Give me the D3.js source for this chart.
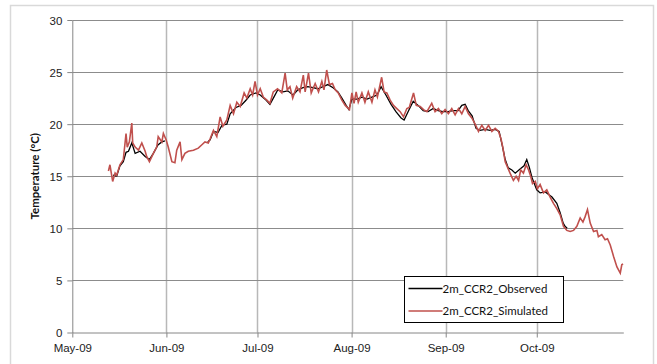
<!DOCTYPE html>
<html lang="en">
<head>
<meta charset="UTF-8">
<title>2m CCR2 temperature</title>
<script src="https://d3js.org/d3.v7.min.js"></script>
<style>
  body { margin: 0; background: #fff; }
  svg { display: block; font-family: Lato, "Open Sans", sans-serif; }
  .tick text { font-size: 11.5px; fill: #222; }
  .axis path, .axis line { stroke: #868686; }
  .grid-h line { stroke: #8c8c8c; }
  .grid-v line { stroke: #b8b8b8; stroke-width: 1.5px; }
  .legend text { font-size: 11.5px; fill: #111; }
</style>
</head>
<body>
<div id="chart"></div>
<script>
// days after 1 May 2009 and temperature (°C)
const simDays = [11.9, 12.4, 13.3, 14.1, 14.6, 15.7, 16.8, 17.7, 18.1, 18.8, 19.6, 19.9, 20.7, 21.8, 22.9, 24.0, 24.5, 25.4, 26.7, 27.8,
  28.3, 29.5, 30.0, 30.9, 31.6, 32.8, 33.8, 34.4, 35.5, 36.1, 37.1, 38.2, 39.9, 41.5, 42.6, 43.7, 44.8,
  45.4, 46.5, 47.6, 48.7, 49.6, 50.9, 52.0, 53.1, 54.2, 55.3, 56.6, 57.5, 58.6, 59.4, 60.2, 61.0, 61.9, 62.9, 64.1, 65.1,
  66.2, 67.6, 69.0, 70.1, 70.8, 71.7, 72.6, 73.9, 75.0,
  76.1, 76.7, 77.8, 78.7, 80.0, 81.1, 82.2, 82.9, 83.8, 84.7, 85.7, 86.6, 87.6, 88.8, 89.9, 91.3, 92.1, 92.8, 93.5, 94.2,
  95.4, 96.4, 97.5, 98.7, 99.7, 100.5, 101.9, 102.7, 103.6, 104.7, 105.8, 106.9, 108.0, 109.1, 110.2, 111.0,
  112.4, 113.3, 114.6, 115.7, 116.8, 118.4, 119.5, 120.6, 121.7, 122.8, 123.9, 125.0, 126.1, 127.2, 128.3, 129.4, 130.5,
  131.6, 132.7, 133.8, 134.9, 136.0, 137.1, 138.2, 139.3, 140.4, 141.2, 141.8, 142.6,
  144.2, 145.3, 146.2, 147.0, 147.7, 148.6, 149.5, 150.3, 151.0, 151.6, 152.5, 153.2, 154.1, 155.2, 156.3, 157.4, 158.5,
  159.6, 160.7, 161.8, 162.9, 164.0, 165.1, 166.2, 167.3, 168.2, 168.9, 169.7, 170.6, 171.7, 172.8, 173.3, 174.4, 175.5,
  176.3, 177.2, 178.3, 179.4, 180.5, 181.0, 181.4];
const simTemp = [15.5, 16.1, 14.5, 15.3, 15.1, 16.1, 16.6, 19.1, 17.8, 18.3, 20.1, 18.2, 17.8, 17.5, 18.2, 17.4, 16.9, 16.4, 17.2, 17.8,
  18.8, 18.3, 19.1, 18.5, 17.8, 16.4, 16.3, 17.5, 18.3, 16.6, 17.2, 17.4, 17.5, 17.7, 18.0, 18.3, 18.2,
  18.6, 19.4, 18.8, 20.7, 19.8, 20.4, 21.8, 21.0, 22.1, 21.7, 23.0, 22.5, 23.4, 22.8, 24.1, 22.8, 23.4, 22.6, 22.3, 22.0,
  23.1, 23.4, 23.0, 24.9, 23.3, 23.6, 22.5, 23.6, 23.1,
  24.7, 23.1, 24.9, 23.0, 23.9, 23.1, 24.1, 23.3, 25.2, 23.8, 23.9, 23.3, 23.0, 22.3, 21.8, 21.4, 23.0, 22.0, 23.1, 22.1,
  23.0, 22.1, 23.1, 22.1, 23.3, 22.6, 24.5, 23.1, 23.0, 22.3, 21.8, 21.5, 21.2, 20.7, 21.5, 21.6,
  23.0, 21.8, 21.7, 21.4, 21.2, 22.0, 21.2, 21.5, 21.0, 21.4, 21.0, 21.5, 20.9, 21.5, 21.0, 21.7, 21.0,
  20.6, 20.0, 19.3, 19.9, 19.4, 19.9, 19.3, 19.6, 19.3, 18.6, 17.8, 16.4,
  15.3, 14.6, 15.0, 14.6, 15.6, 15.3, 16.1, 15.6, 15.0, 14.3, 14.5, 13.8, 14.2, 13.4, 13.7, 13.0, 12.4,
  11.9, 11.3, 10.2, 9.8, 9.7, 9.8, 10.2, 11.0, 10.6, 11.1, 11.8, 10.5, 9.7, 9.8, 9.2, 9.4, 8.9,
  9.0, 8.4, 7.3, 6.3, 5.7, 6.5, 6.6];

// observed: no visible record between about 31 May and 14 June (null = gap)
const obsDays = [13.4, 14.6, 15.7, 16.8, 17.7, 18.5, 19.6, 20.7, 22.3, 24.0, 25.4, 26.7, 28.2, 29.5, 30.5, 31.0,
  44.6, 45.4, 46.5, 48.0, 49.3, 50.9, 52.0, 53.9, 55.6, 57.2, 58.6, 60.5, 61.9, 63.5, 65.1,
  66.4, 67.7, 69.4, 71.0, 72.7, 74.3, 76.0, 77.6, 79.3, 80.9, 82.6, 84.2, 85.9, 87.5, 88.8, 90.2, 91.1, 92.1, 93.8,
  95.4, 97.1, 98.7, 100.4, 101.7, 103.3, 105.0, 106.6, 108.3, 109.3, 110.6, 112.3, 113.9, 115.6, 117.2, 118.9, 120.5,
  122.1, 123.8, 125.4, 127.1, 128.3, 129.4, 130.4, 131.7, 133.0, 134.3, 136.0, 137.6, 139.3, 140.6, 141.6, 142.6,
  143.6, 144.8, 145.9, 147.5, 148.8, 149.7, 150.5, 151.5, 153.0, 154.1, 155.8, 158.0, 159.6, 160.7, 161.7, 162.3, 163.0];
const obsTemp = [15.1, 15.0, 16.0, 16.4, 17.3, 17.4, 18.2, 17.2, 17.4, 16.9, 16.6, 17.2, 18.0, 18.3, 18.4, null,
  18.3, 18.5, 19.3, 19.2, 19.9, 20.0, 21.0, 21.6, 21.8, 22.3, 22.8, 23.0, 22.8, 22.4, 21.9,
  22.6, 23.3, 23.1, 23.2, 22.8, 23.3, 23.5, 23.6, 23.5, 23.4, 23.6, 23.8, 23.5, 23.1, 22.5, 21.8, 21.4, 22.4, 22.4,
  22.6, 22.4, 22.6, 22.8, 23.6, 22.8, 21.9, 21.2, 20.6, 20.4, 21.2, 22.2, 21.8, 21.3, 21.2, 21.5, 21.3,
  21.2, 21.2, 21.3, 21.3, 21.8, 21.9, 21.3, 20.8, 19.6, 19.4, 19.5, 19.4, 19.5, 19.3, 18.0, 16.6,
  15.8, 15.6, 15.3, 15.7, 16.0, 16.6, 15.9, 14.8, 13.7, 13.4, 13.5, 13.0, 12.4, 11.5, 10.5, 10.2, 10.0];

const yTicks = [0, 5, 10, 15, 20, 25, 30];
const monthTicks = ["2009-05-01", "2009-06-01", "2009-07-01", "2009-08-01", "2009-09-01", "2009-10-01"];
const seriesNames = ["2m_CCR2_Observed", "2m_CCR2_Simulated"];
const seriesColors = ["#000000", "#c0504d"];

const width = 657, height = 364;
const start = new Date(2009, 4, 1);
const toDate = d => new Date(start.getTime() + d * 864e5);

const svg = d3.select("#chart").append("svg")
  .attr("width", width)
  .attr("height", height);

// chart area frame
svg.append("rect")
  .attr("x", 10.5).attr("y", 5.5)
  .attr("width", 643).attr("height", 380)
  .attr("fill", "none")
  .attr("stroke", "#d9d9d9")
  .attr("stroke-width", 1.5);

const x = d3.scaleTime()
  .domain([start, toDate(181.5)])
  .range([72.3, 623.3]);
const y = d3.scaleLinear()
  .domain([0, 30])
  .range([332.5, 20]);

const parse = d3.timeParse("%Y-%m-%d");
const months = monthTicks.map(parse);

// gridlines
svg.append("g").attr("class", "grid-v")
  .selectAll("line").data(months.slice(1)).join("line")
  .attr("x1", d => Math.round(x(d)) + 0.5).attr("x2", d => Math.round(x(d)) + 0.5)
  .attr("y1", y(30)).attr("y2", y(0));
svg.append("g").attr("class", "grid-h")
  .selectAll("line").data(yTicks.slice(1)).join("line")
  .attr("x1", x.range()[0]).attr("x2", x.range()[1])
  .attr("y1", d => Math.round(y(d)) + 0.5).attr("y2", d => Math.round(y(d)) + 0.5);

// axes
svg.append("g").attr("class", "axis")
  .attr("transform", `translate(${x.range()[0]},0)`)
  .call(d3.axisLeft(y).tickValues(yTicks).tickSize(5).tickPadding(5).tickSizeOuter(0))
  .call(g => g.selectAll(".tick text").attr("dy", "0.35em"));
svg.append("g").attr("class", "axis")
  .attr("transform", `translate(0,${y(0)})`)
  .call(d3.axisBottom(x).tickValues(months).tickFormat(d3.timeFormat("%b-%y"))
    .tickSize(5).tickPadding(6).tickSizeOuter(0));

svg.append("text")
  .attr("transform", `translate(39,${(y(0) + y(30)) / 2}) rotate(-90)`)
  .attr("text-anchor", "middle")
  .attr("font-size", "11.5px")
  .attr("font-weight", "bold")
  .attr("fill", "#111")
  .text("Temperature (°C)");

// series
const line = d3.line()
  .defined(d => d[1] != null)
  .x(d => x(toDate(d[0])))
  .y(d => y(d[1]));

const obs = obsDays.map((d, i) => [d, obsTemp[i]]);
const sim = simDays.map((d, i) => [d, simTemp[i]]);

svg.append("path")
  .datum(obs)
  .attr("fill", "none")
  .attr("stroke", seriesColors[0])
  .attr("stroke-width", 1.3)
  .attr("d", line);
svg.append("path")
  .datum(sim)
  .attr("fill", "none")
  .attr("stroke", seriesColors[1])
  .attr("stroke-width", 1.6)
  .attr("d", line);

// legend
const legend = svg.append("g").attr("class", "legend")
  .attr("transform", "translate(404.5,276.5)");
legend.append("rect")
  .attr("width", 159).attr("height", 46)
  .attr("fill", "#fff").attr("stroke", "#000");
seriesNames.forEach((name, i) => {
  const ly = 12 + i * 22.5;
  legend.append("line")
    .attr("x1", 4).attr("x2", 38)
    .attr("y1", ly).attr("y2", ly)
    .attr("stroke", seriesColors[i])
    .attr("stroke-width", 1.5);
  legend.append("text")
    .attr("x", 38).attr("y", ly)
    .attr("dy", "0.35em")
    .text(name);
});
</script>
</body>
</html>
